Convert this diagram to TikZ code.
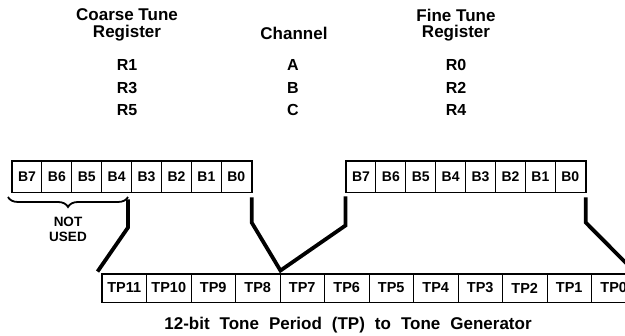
\documentclass[tikz,border=0pt]{standalone}
\usepackage{fontspec}
\setmainfont{Liberation Sans}
\usetikzlibrary{calc,decorations.pathreplacing}
\tikzset{
  bitcell/.style={draw, line width=0.9pt, minimum width=29.9pt, minimum height=31pt, inner sep=0pt, font=\fontsize{14}{14}\selectfont\bfseries},
  tpcell/.style={draw, line width=0.9pt, minimum width=44.5pt, minimum height=28pt, inner sep=0pt, font=\fontsize{14.5}{14.5}\selectfont\bfseries},
  outer/.style={draw, line width=1.7pt},
  head/.style={font=\fontsize{17}{17}\selectfont\bfseries, inner sep=0pt},
  regname/.style={font=\fontsize{16}{16}\selectfont\bfseries, inner sep=0pt},
  conn/.style={line width=3.8pt},
  note/.style={font=\fontsize{13.5}{13.5}\selectfont\bfseries, inner sep=0pt}
}
\begin{document}
\begin{tikzpicture}[x=1pt,y=-1pt]
\useasboundingbox (0,0) rectangle (625,336);
\clip (0,0) rectangle (625,336);
% headings
\node[head] (h1a) at (127,15) {Coarse Tune};
\node[head] (h1b) at (127,33) {Register};
\node[head] (h2) at (294,33) {Channel};
\node[head] (h3a) at (456,15) {Fine Tune};
\node[head] (h3b) at (456,33) {Register};
\node[regname] (r1) at (127,65) {R1};
\node[regname] (r3) at (127,88) {R3};
\node[regname] (r5) at (127,110) {R5};
\node[regname] (ca) at (293,65) {A};
\node[regname] (cb) at (293,88) {B};
\node[regname] (cc) at (293,110) {C};
\node[regname] (r0) at (456,65) {R0};
\node[regname] (r2) at (456,88) {R2};
\node[regname] (r4) at (456,110) {R4};
% registers
\foreach \i in {0,...,7} {
  \pgfmathtruncatemacro\b{7-\i}
  \node[bitcell] (L\b) at ({12+29.9*(\i+0.5)},176.5) {B\b};
  \node[bitcell] (R\b) at ({346+29.9*(\i+0.5)},176.5) {B\b};
}
\draw[outer] (L7.north west) rectangle (L0.south east);
\draw[outer] (R7.north west) rectangle (R0.south east);
% TP register
\foreach \i in {0,...,11} {
  \pgfmathtruncatemacro\b{11-\i}
  \node[tpcell] (T\b) at ({102+44.5*(\i+0.5)},288) {TP\b};
}
\draw[outer] (T11.north west) rectangle (T0.south east);
% brace
\draw[decorate, decoration={brace, mirror, amplitude=10pt}, line width=1.8pt] (8,197) -- (128,197);
\node[note] (n1) at (68,222) {NOT};
\node[note] (n2) at (68,237) {USED};
% connectors
\draw[conn] ($(L4.south east)+(-4,7)$) -- ++(0,28) -- ($(T11.north west)+(-4,-2)$);
\draw[conn] ($(L0.south east)+(0,5)$) -- ++(0,25) -- ($(T8.north east)+(0,-3)$) -- ($(R7.south west)+(0,33)$) -- ($(R7.south west)+(0,4)$);
\draw[conn] ($(R0.south east)+(0,5)$) -- ++(0,25) -- (T0.north east);
% caption
\node[font=\fontsize{17}{17}\selectfont\bfseries, inner sep=0pt] (cap) at (348,325) {\spaceskip=10pt 12-bit Tone Period (TP) to Tone Generator};
\end{tikzpicture}
\end{document}
